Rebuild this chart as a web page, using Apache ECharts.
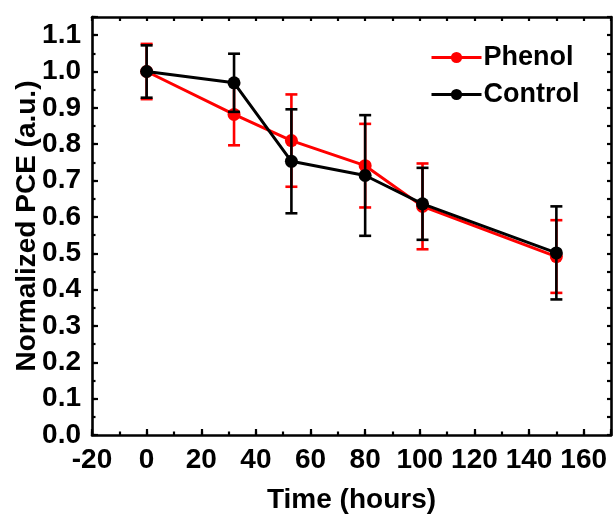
<!DOCTYPE html>
<html>
<head>
<meta charset="utf-8">
<script src="https://cdn.jsdelivr.net/npm/echarts@6/dist/echarts.min.js"></script>
<style>html,body{margin:0;padding:0;background:#fff;}#c{width:614px;height:516px;}</style>
</head>
<body>
<div id="c"></div>
<script>
var timeHours = [0, 32, 53, 80, 101, 150];
var phenolMean = [1.0, 0.882, 0.810, 0.741, 0.629, 0.491];
var phenolErr  = [0.076, 0.085, 0.127, 0.115, 0.118, 0.100];
var controlMean = [1.0, 0.969, 0.753, 0.714, 0.636, 0.501];
var controlErr  = [0.072, 0.080, 0.143, 0.166, 0.099, 0.128];
var xTickLabels = [-20, 0, 20, 40, 60, 80, 100, 120, 140, 160];
var yTickLabels = ['0.0','0.1','0.2','0.3','0.4','0.5','0.6','0.7','0.8','0.9','1.0','1.1'];

var FONT = '"Liberation Sans", Arial, sans-serif';
var chart = echarts.init(document.getElementById('c'));

function pairs(xs, ys) { return xs.map(function (x, i) { return [x, ys[i]]; }); }
function errData(xs, m, e) { return xs.map(function (x, i) { return [x, m[i] - e[i], m[i] + e[i]]; }); }

function errRender(color) {
  return function (params, api) {
    var x = api.value(0);
    var lo = api.coord([x, api.value(1)]);
    var hi = api.coord([x, api.value(2)]);
    var hw = 6;
    var st = { stroke: color, lineWidth: 2.6 };
    return {
      type: 'group',
      children: [
        { type: 'line', shape: { x1: lo[0], y1: lo[1], x2: hi[0], y2: hi[1] }, style: st },
        { type: 'line', shape: { x1: lo[0] - hw, y1: lo[1], x2: lo[0] + hw, y2: lo[1] }, style: st },
        { type: 'line', shape: { x1: hi[0] - hw, y1: hi[1], x2: hi[0] + hw, y2: hi[1] }, style: st }
      ]
    };
  };
}

var xLabelFmt = function (v) { return xTickLabels.indexOf(v) >= 0 ? String(v) : ''; };
var yLabelFmt = function (v) { var s = v.toFixed(1); return (Math.abs(v * 10 - Math.round(v * 10)) < 1e-6 && yTickLabels.indexOf(s) >= 0) ? s : ''; };

var axisLine = { show: true, onZero: false, lineStyle: { color: '#000', width: 2.6 } };
var noLine = { show: false, onZero: false };

var option = {
  animation: false,
  backgroundColor: '#fff',
  grid: { left: 92, right: 3, top: 17, bottom: 81, containLabel: false, outerBoundsMode: 'none' },
  legend: {
    orient: 'vertical',
    left: 425, top: 39,
    itemWidth: 50, itemHeight: 14, itemGap: 10,
    lineStyle: { width: 3 },
    textStyle: { fontFamily: FONT, fontWeight: 'bold', fontSize: 27, color: '#000', lineHeight: 27, padding: [0, 0, 0, -3] },
    data: ['Phenol', 'Control']
  },
  xAxis: [
    { type: 'value', position: 'bottom', min: -20, max: 170, interval: 20,
      axisLine: axisLine, splitLine: { show: false },
      axisTick: { show: true, inside: true, length: 6, lineStyle: { color: '#000', width: 2.2 } },
      axisLabel: { formatter: xLabelFmt, margin: 11, fontFamily: FONT, fontWeight: 'bold', fontSize: 28, color: '#000' },
      name: 'Time (hours)', nameLocation: 'middle', nameGap: 51,
      nameTextStyle: { fontFamily: FONT, fontWeight: 'bold', fontSize: 28, color: '#000' } },
    { type: 'value', position: 'bottom', min: -20, max: 170, interval: 10,
      axisLine: noLine, splitLine: { show: false }, axisLabel: { show: false },
      axisTick: { show: true, inside: true, length: 3.5, lineStyle: { color: '#000', width: 2.2 } } },
    { type: 'value', position: 'top', min: -20, max: 170, interval: 10,
      axisLine: axisLine, splitLine: { show: false }, axisLabel: { show: false },
      axisTick: { show: true, inside: true, length: 4, lineStyle: { color: '#000', width: 2.2 } } }
  ],
  yAxis: [
    { type: 'value', position: 'left', min: 0, max: 1.15, interval: 0.1,
      axisLine: axisLine, splitLine: { show: false },
      axisTick: { show: true, inside: true, length: 6, lineStyle: { color: '#000', width: 2.2 } },
      axisLabel: { formatter: yLabelFmt, margin: 11, fontFamily: FONT, fontWeight: 'bold', fontSize: 28, color: '#000' },
      name: 'Normalized PCE (a.u.)', nameLocation: 'middle', nameGap: 51, nameMoveOverlap: false,
      nameTextStyle: { fontFamily: FONT, fontWeight: 'bold', fontSize: 28, color: '#000' } },
    { type: 'value', position: 'left', min: 0, max: 1.15, interval: 0.05,
      axisLine: noLine, splitLine: { show: false }, axisLabel: { show: false },
      axisTick: { show: true, inside: true, length: 3.5, lineStyle: { color: '#000', width: 2.2 } } },
    { type: 'value', position: 'right', min: 0, max: 1.15, interval: 0.05,
      axisLine: axisLine, splitLine: { show: false }, axisLabel: { show: false },
      axisTick: { show: true, inside: true, length: 4, lineStyle: { color: '#000', width: 2.2 } } }
  ],
  series: [
    { name: 'PhenolErr', type: 'custom', xAxisIndex: 0, yAxisIndex: 0, z: 1,
      renderItem: errRender('#ff0000'), data: errData(timeHours, phenolMean, phenolErr), silent: true },
    { name: 'Phenol', type: 'line', xAxisIndex: 0, yAxisIndex: 0, z: 2,
      data: pairs(timeHours, phenolMean), symbol: 'circle', symbolSize: 13,
      itemStyle: { color: '#ff0000' }, lineStyle: { color: '#ff0000', width: 3 } },
    { name: 'ControlErr', type: 'custom', xAxisIndex: 0, yAxisIndex: 0, z: 3,
      renderItem: errRender('#000000'), data: errData(timeHours, controlMean, controlErr), silent: true },
    { name: 'Control', type: 'line', xAxisIndex: 0, yAxisIndex: 0, z: 4,
      data: pairs(timeHours, controlMean), symbol: 'circle', symbolSize: 13,
      itemStyle: { color: '#000000' }, lineStyle: { color: '#000000', width: 3 } }
  ]
};
chart.setOption(option);
</script>
</body>
</html>
